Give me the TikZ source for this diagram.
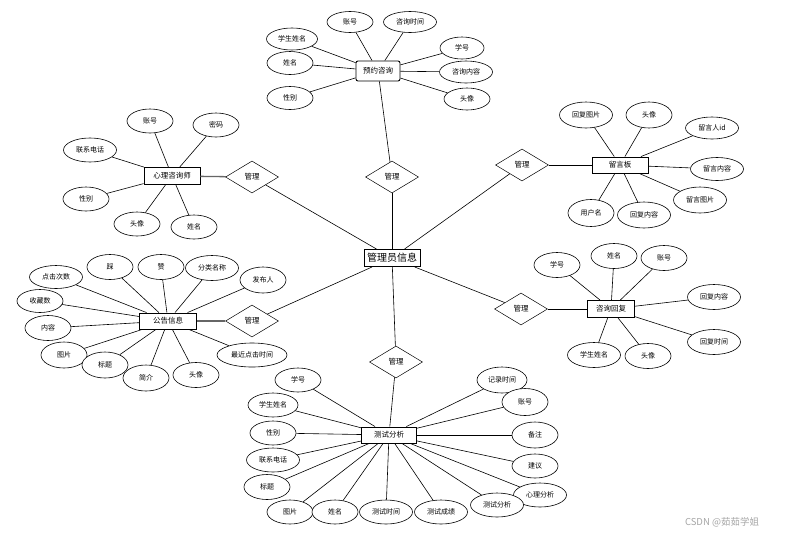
\documentclass[tikz,border=0pt]{standalone}
\usepackage{fontspec}
\setmainfont{Noto Sans CJK SC}
\usetikzlibrary{shapes.geometric}
\tikzset{
    attr/.style={ellipse,draw=black,line width=0.6pt,fill=white,inner sep=0pt,
                 minimum width=46,minimum height=24,font=\fontsize{7}{8}\selectfont},
    wattr/.style={attr,minimum width=53},
    ent/.style={rectangle,draw=black,line width=0.9pt,fill=white,inner sep=0pt,
                minimum height=17,font=\fontsize{7.5}{8}\selectfont},
    rel/.style={diamond,draw=black,line width=0.5pt,fill=white,inner sep=0pt,
                minimum width=53,minimum height=32,font=\fontsize{7.5}{8}\selectfont},
    link/.style={draw=black,line width=0.6pt},
    rellink/.style={draw=black!60,line width=1.3pt}
}

\begin{document}
\begin{tikzpicture}[x=1pt,y=-1pt]
  \useasboundingbox[fill=white] (0,0) rectangle (786,536);

  % central entity
  \node[ent,minimum width=56,font=\fontsize{10}{11}\selectfont] (gly) at (392,258) {管理员信息};

  % relations
  \node[rel] (gl1) at (392,177) {管理};
  \node[rel] (gl2) at (252,177) {管理};
  \node[rel] (gl3) at (522,165) {管理};
  \node[rel] (gl4) at (252,321) {管理};
  \node[rel] (gl5) at (521,309) {管理};
  \node[rel] (gl6) at (396,362) {管理};

  % 预约咨询
  \node[ent,minimum width=44,minimum height=20,rounded corners=2pt] (yy) at (378,71) {预约咨询};
  \node[wattr,minimum width=51,minimum height=22] (yy1) at (292,39) {学生姓名};
  \node[attr,minimum height=23] (yy2) at (290,63) {姓名};
  \node[attr,minimum height=23] (yy3) at (290,98) {性别};
  \node[attr,minimum height=21] (yy4) at (350,22) {账号};
  \node[wattr,minimum height=21] (yy5) at (410,22) {咨询时间};
  \node[attr,minimum width=44,minimum height=22] (yy6) at (462,48) {学号};
  \node[wattr,minimum height=22] (yy7) at (466,72) {咨询内容};
  \node[attr,minimum height=22] (yy8) at (467,99) {头像};

  % 心理咨询师
  \node[ent,minimum width=56] (xl) at (172,176) {心理咨询师};
  \node[attr] (xl1) at (150,121) {账号};
  \node[attr] (xl2) at (216,125) {密码};
  \node[wattr] (xl3) at (90,150) {联系电话};
  \node[attr] (xl4) at (86,199) {性别};
  \node[attr] (xl5) at (137,224) {头像};
  \node[attr] (xl6) at (194,227) {姓名};

  % 留言板
  \node[ent,minimum width=56,minimum height=16] (ly) at (620,165) {留言板};
  \node[wattr,minimum height=26] (ly1) at (586,115) {回复图片};
  \node[attr,minimum height=26] (ly2) at (649,115) {头像};
  \node[wattr,minimum height=22] (ly3) at (712,128) {留言人id};
  \node[wattr,minimum height=23] (ly4) at (717,169) {留言内容};
  \node[wattr,minimum height=26] (ly5) at (700,200) {留言图片};
  \node[attr,minimum height=27] (ly6) at (591,213) {用户名};
  \node[wattr,minimum height=26] (ly7) at (644,215) {回复内容};

  % 公告信息
  \node[ent,minimum width=57,minimum height=16] (gg) at (168,321) {公告信息};
  \node[wattr,minimum height=23] (gg1) at (56,277) {点击次数};
  \node[attr,minimum height=25] (gg2) at (110,267) {踩};
  \node[attr,minimum height=25] (gg3) at (161,267) {赞};
  \node[wattr,minimum height=25] (gg4) at (212,268) {分类名称};
  \node[attr,minimum height=26] (gg5) at (263,280) {发布人};
  \node[attr,minimum height=23] (gg6) at (40,301) {收藏数};
  \node[attr,minimum height=25] (gg7) at (48,328) {内容};
  \node[attr,minimum height=26] (gg8) at (64,355) {图片};
  \node[attr,minimum height=26] (gg9) at (105,365) {标题};
  \node[attr,minimum height=26] (gg10) at (146,378) {简介};
  \node[attr,minimum height=25] (gg11) at (196,375) {头像};
  \node[attr,minimum width=70] (gg12) at (252,355) {最近点击时间};

  % 咨询回复
  \node[ent,minimum width=47] (hf) at (611,309) {咨询回复};
  \node[attr,minimum height=25] (hf1) at (557,265) {学号};
  \node[attr,minimum height=25] (hf2) at (614,256) {姓名};
  \node[attr,minimum height=25] (hf3) at (664,258) {账号};
  \node[wattr,minimum height=25] (hf4) at (714,297) {回复内容};
  \node[wattr,minimum height=25] (hf5) at (714,342) {回复时间};
  \node[wattr,minimum height=25] (hf6) at (594,355) {学生姓名};
  \node[attr,minimum height=25] (hf7) at (648,356) {头像};

  % 测试分析
  \node[ent,minimum width=55,minimum height=16] (cs) at (389,435) {测试分析};
  \node[attr] (cs1) at (298,380) {学号};
  \node[wattr,minimum width=50] (cs2) at (273,405) {学生姓名};
  \node[attr] (cs3) at (273,433) {性别};
  \node[wattr] (cs4) at (273,460) {联系电话};
  \node[attr,minimum height=25] (cs5) at (267,487) {标题};
  \node[attr] (cs6) at (290,512) {图片};
  \node[attr] (cs7) at (335,512) {姓名};
  \node[wattr] (cs8) at (386,512) {测试时间};
  \node[wattr] (cs9) at (441,512) {测试成绩};
  \node[wattr] (cs10) at (540,495) {心理分析};
  \node[wattr] (cs11) at (497,505) {测试分析};
  \node[attr,minimum width=50,minimum height=26] (cs12) at (502,380) {记录时间};
  \node[attr,minimum height=27] (cs13) at (525,402) {账号};
  \node[attr,minimum height=26] (cs14) at (535,435) {备注};
  \node[attr,minimum height=24] (cs15) at (535,466) {建议};

  % connectors
  \foreach \a in {yy1,yy2,yy3,yy4,yy5,yy6,yy7,yy8}{\draw[link] (yy) -- (\a);}
  \foreach \a in {xl1,xl2,xl3,xl4,xl5,xl6}{\draw[link] (xl) -- (\a);}
  \foreach \a in {ly1,ly2,ly3,ly4,ly5,ly6,ly7}{\draw[link] (ly) -- (\a);}
  \foreach \a in {gg1,gg2,gg3,gg4,gg5,gg6,gg7,gg8,gg9,gg10,gg11,gg12}{\draw[link] (gg) -- (\a);}
  \foreach \a in {hf1,hf2,hf3,hf4,hf5,hf6,hf7}{\draw[link] (hf) -- (\a);}
  \foreach \a in {cs1,cs2,cs3,cs4,cs5,cs6,cs7,cs8,cs9,cs10,cs11,cs12,cs13,cs14,cs15}{\draw[link] (cs) -- (\a);}

  \draw[link] (yy) -- (gl1);
  \draw[rellink] (xl) -- (gl2);
  \draw[link] (ly) -- (gl3);
  \draw[rellink] (gg) -- (gl4);
  \draw[link] (hf) -- (gl5);
  \draw[link] (cs) -- (gl6);
  \foreach \r in {gl1,gl2,gl3,gl4,gl5,gl6}{\draw[link] (gly) -- (\r);}

  \node[font=\fontsize{9.5}{10}\selectfont,text=black!35] (mark) at (722,522) {CSDN @茹茹学姐};
\end{tikzpicture}
\end{document}
